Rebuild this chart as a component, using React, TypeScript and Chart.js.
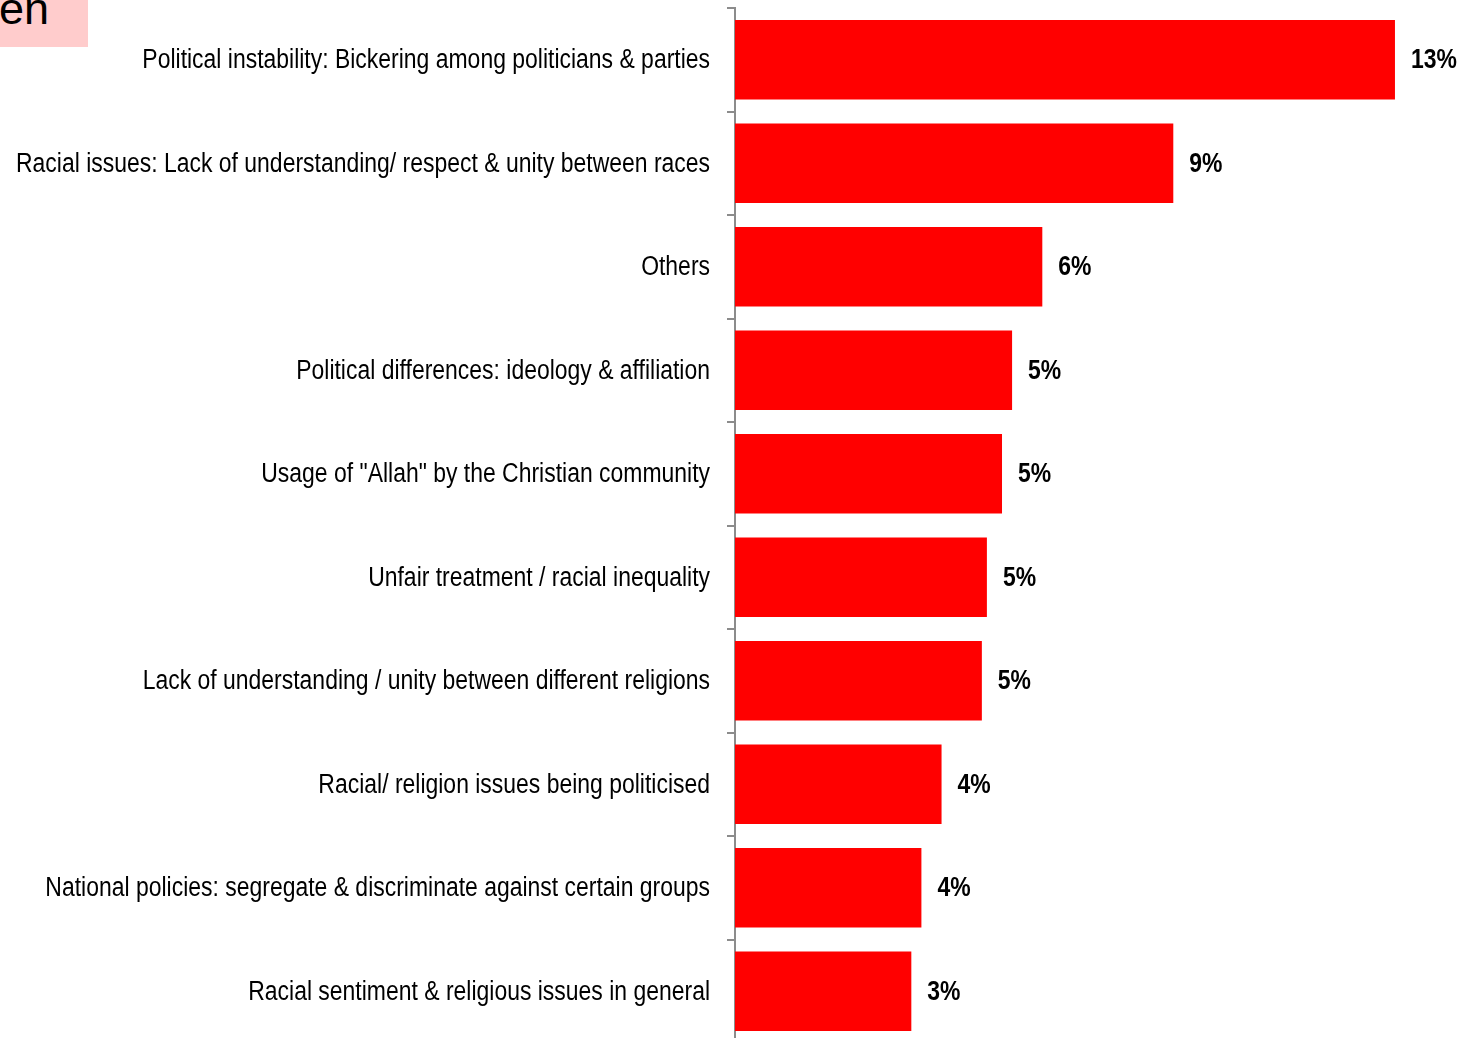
import React, { useEffect, useRef } from "react";
import { Chart, registerables } from "chart.js";

Chart.register(...registerables);

const categories: string[] = [
  "Political instability: Bickering among politicians & parties",
  "Racial issues: Lack of understanding/ respect & unity between races",
  "Others",
  "Political differences: ideology & affiliation",
  "Usage of \"Allah\" by the Christian community",
  "Unfair treatment / racial inequality",
  "Lack of understanding / unity between different religions",
  "Racial/ religion issues being politicised",
  "National policies: segregate & discriminate against certain groups",
  "Racial sentiment & religious issues in general",
];

const values: number[] = [13.1, 8.7, 6.1, 5.5, 5.3, 5.0, 4.9, 4.1, 3.7, 3.5];

const valueLabels: string[] = ["13%", "9%", "6%", "5%", "5%", "5%", "5%", "4%", "4%", "3%"];

const FONT = "'Liberation Sans', Arial, sans-serif";
const NARROW_SCALE = 0.85;

export default function App() {
  const ref = useRef<HTMLCanvasElement | null>(null);

  useEffect(() => {
    if (!ref.current) return;
    const textPlugin = {
      id: "narrowText",
      afterDraw(chart: any) {
        const ctx = chart.ctx;
        const meta = chart.getDatasetMeta(0);
        const yScale = chart.scales.y;
        ctx.save();
        ctx.fillStyle = "#000000";
        ctx.textBaseline = "middle";
        // category labels
        ctx.font = `27px ${FONT}`;
        ctx.textAlign = "right";
        categories.forEach((label, i) => {
          const y = yScale.getPixelForValue(i);
          ctx.save();
          ctx.translate(710, y + 1);
          ctx.scale(NARROW_SCALE, 1);
          ctx.fillText(label, 0, 0);
          ctx.restore();
        });
        // value labels
        ctx.font = `bold 27px ${FONT}`;
        ctx.textAlign = "left";
        meta.data.forEach((bar: any, i: number) => {
          ctx.save();
          ctx.translate(bar.x + 16, bar.y + 1);
          ctx.scale(NARROW_SCALE, 1);
          ctx.fillText(valueLabels[i], 0, 0);
          ctx.restore();
        });
        ctx.restore();
      },
    };
    const chart = new Chart(ref.current, {
      type: "bar",
      data: {
        labels: categories,
        datasets: [
          {
            data: values,
            backgroundColor: "#FF0000",
            borderWidth: 0,
            categoryPercentage: 1,
            barPercentage: 0.77,
          },
        ],
      },
      options: {
        indexAxis: "y",
        animation: false,
        responsive: false,
        maintainAspectRatio: false,
        layout: { padding: { top: 8, right: 0, bottom: 0, left: 0 } },
        plugins: {
          legend: { display: false },
          tooltip: { enabled: false },
        },
        scales: {
          x: {
            display: false,
            min: 0,
            max: 14.51,
          },
          y: {
            afterFit: (scale: any) => {
              scale.width = 735;
              scale.paddingTop = 0;
              scale.paddingBottom = 0;
            },
            offset: true,
            grid: {
              offset: true,
              drawOnChartArea: false,
              drawTicks: true,
              tickLength: 8,
              color: "#8c8c8c",
              lineWidth: 2,
            },
            border: { display: true, color: "#8c8c8c", width: 2 },
            ticks: {
              display: false,
              autoSkip: false,
            },
          },
        },
      },
      plugins: [textPlugin],
    });
    return () => chart.destroy();
  }, []);

  return (
    <div
      style={{
        position: "absolute",
        left: 0,
        top: 0,
        width: 1466,
        height: 1038,
        overflow: "hidden",
        background: "#ffffff",
      }}
    >
      <canvas
        ref={ref}
        width={1466}
        height={1043}
        style={{ position: "absolute", left: 0, top: 0, width: 1466, height: 1043 }}
      />
      <div
        style={{
          position: "absolute",
          left: 0,
          top: 0,
          width: 88,
          height: 47,
          background: "#FFCCCC",
          overflow: "hidden",
        }}
      >
        <span
          style={{
            position: "absolute",
            left: -1,
            top: -17,
            fontFamily: "'Liberation Sans', Arial, sans-serif",
            fontSize: 45,
            lineHeight: "52px",
            color: "#000000",
          }}
        >
          en
        </span>
      </div>
    </div>
  );
}
